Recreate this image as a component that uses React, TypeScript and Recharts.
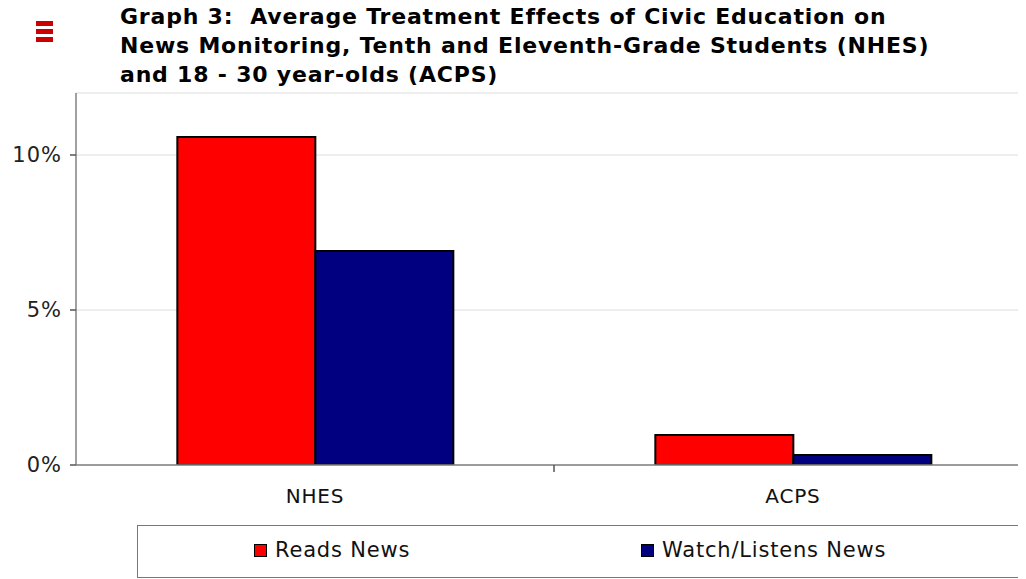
import React from "react";
import { BarChart, Bar, XAxis, YAxis, CartesianGrid } from "recharts";

const categories = ["NHES", "ACPS"];
const readsNews = [0.1058, 0.0097];
const watchListensNews = [0.069, 0.0032];
const yTicks = [0, 0.05, 0.1];
const titleLines = [
  "Graph 3:  Average Treatment Effects of Civic Education on",
  "News Monitoring, Tenth and Eleventh-Grade Students (NHES)",
  "and 18 - 30 year-olds (ACPS)",
];
const seriesNames = ["Reads News", "Watch/Listens News"];
const seriesColors = ["#ff0000", "#000080"];

const data = categories.map((c, i) => ({
  name: c,
  reads: readsNews[i],
  watch: watchListensNews[i],
}));

const FONT = "'DejaVu Sans', Verdana, sans-serif";

const XTick = (props: any) => {
  const { x, y, payload, index } = props;
  return (
    <g>
      <text
        x={x}
        y={y + 38}
        textAnchor="middle"
        fontFamily={FONT}
        fontSize={20}
        letterSpacing={0.8}
        fill="#111"
      >
        {payload.value}
      </text>
      {index === 0 && (
        <line x1={x + 239} x2={x + 239} y1={y} y2={y + 7} stroke="#555" strokeWidth={1.5} />
      )}
    </g>
  );
};

const YTick = (props: any) => {
  const { x, y, payload } = props;
  return (
    <text
      x={x}
      y={y}
      dy={7}
      textAnchor="end"
      fontFamily={FONT}
      fontSize={21}
      letterSpacing={1}
      fill="#222"
    >
      {`${Math.round(payload.value * 100)}%`}
    </text>
  );
};

const LegendBox = () => (
  <div
    style={{
      position: "absolute",
      left: 129,
      top: 517,
      width: 888,
      height: 53,
      border: "1px solid #777",
      boxSizing: "border-box",
      fontFamily: FONT,
      fontSize: 21,
      letterSpacing: 0.8,
      color: "#111",
      background: "#fff",
    }}
  >
    {seriesNames.map((n, i) => (
      <div
        key={n}
        style={{
          position: "absolute",
          left: i === 0 ? 116 : 503,
          top: 12,
          display: "flex",
          alignItems: "center",
          whiteSpace: "nowrap",
        }}
      >
        <span
          style={{
            display: "inline-block",
            width: 11,
            height: 11,
            background: seriesColors[i],
            border: "1.5px solid #000",
            marginRight: 8,
          }}
        />
        <span>{n}</span>
      </div>
    ))}
  </div>
);

export default function App() {
  return (
    <div style={{ position: "relative", width: 1024, height: 571, background: "#fff" }}>
      <div style={{ position: "absolute", left: 28, top: 13 }}>
        {[0, 1, 2].map((k) => (
          <div key={k} style={{ width: 17, height: 5, background: "#cc0000", marginBottom: 3 }} />
        ))}
      </div>
      <div
        style={{
          position: "absolute",
          left: 112,
          top: -6,
          fontFamily: FONT,
          fontWeight: "bold",
          fontSize: 22,
          letterSpacing: 0.8,
          lineHeight: "29px",
          color: "#000",
          whiteSpace: "nowrap",
        }}
      >
        {titleLines.map((t) => (
          <div key={t} style={{ whiteSpace: "pre" }}>{t}</div>
        ))}
      </div>
      <BarChart
        width={1024}
        height={571}
        data={data}
        margin={{ top: 85, right: 0, bottom: 0, left: 0 }}
        barCategoryGap="21.2%"
        barGap={0}
      >
        <CartesianGrid vertical={false} horizontal stroke="#dddddd" />
        <XAxis
          dataKey="name"
          tickLine={false}
          tickSize={0}
          tickMargin={0}
          tick={<XTick />}
          axisLine={{ stroke: "#808080", strokeWidth: 1.5 }}
          interval={0}
          height={114}
        />
        <YAxis
          width={68}
          domain={[0, 0.12]}
          ticks={yTicks}
          tickSize={6}
          tickMargin={8}
          tick={<YTick />}
          axisLine={{ stroke: "#808080", strokeWidth: 1.5 }}
          tickLine={{ stroke: "#555", strokeWidth: 1.5 }}
          allowDataOverflow
        />
        <Bar dataKey="reads" name={seriesNames[0]} fill={seriesColors[0]} stroke="#000" strokeWidth={2} isAnimationActive={false} />
        <Bar dataKey="watch" name={seriesNames[1]} fill={seriesColors[1]} stroke="#000" strokeWidth={2} isAnimationActive={false} />
      </BarChart>
      <LegendBox />
    </div>
  );
}
